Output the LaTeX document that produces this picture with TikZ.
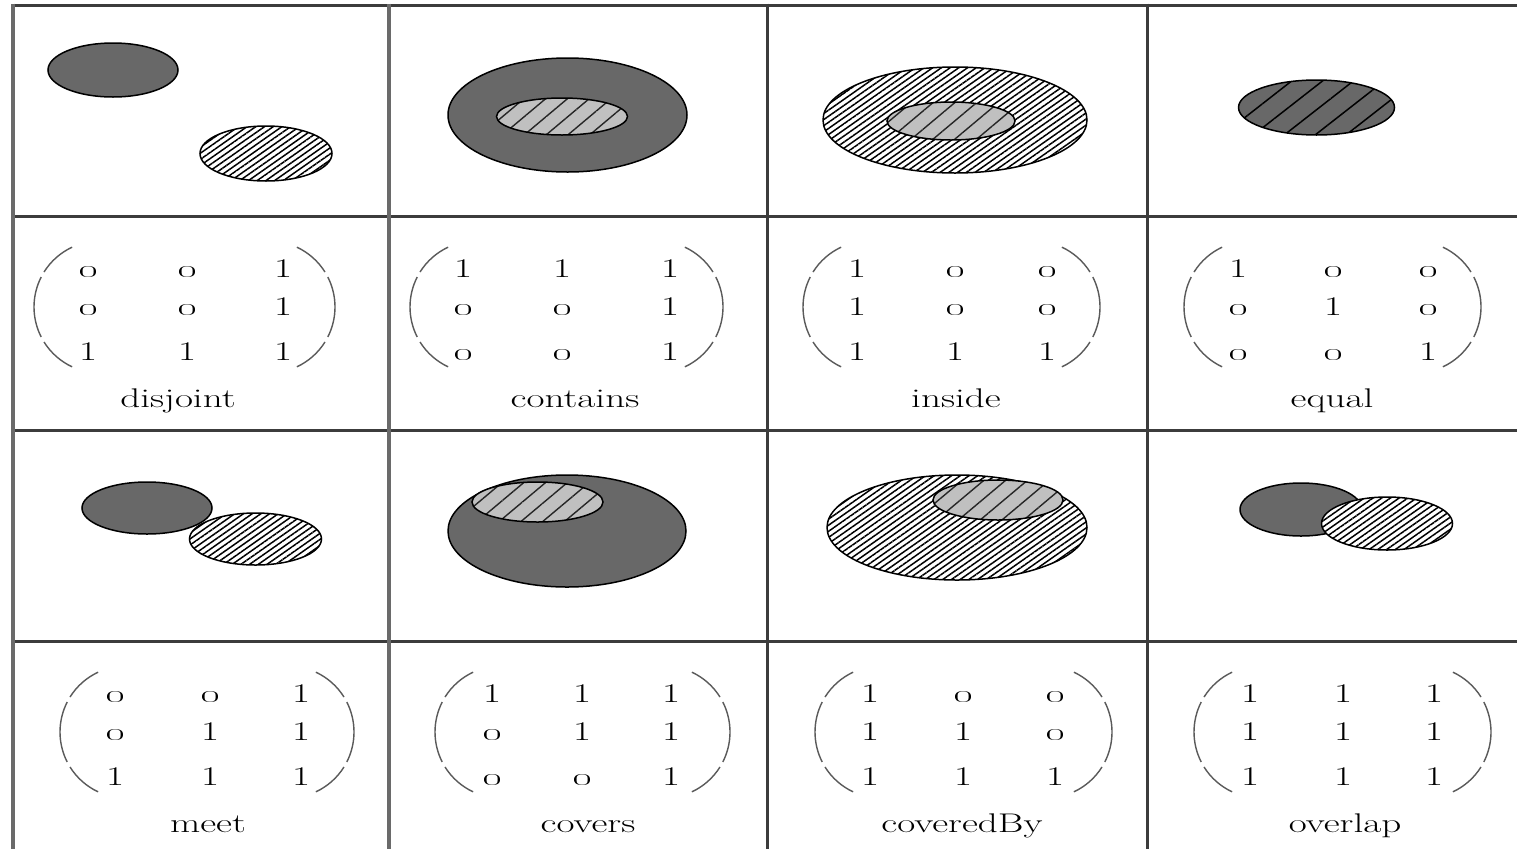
\documentclass[tikz,border=0pt]{standalone}
\usepackage{graphicx}
\usetikzlibrary{patterns.meta}
\definecolor{darkfill}{HTML}{686868}
\definecolor{lightfill}{HTML}{C0C0C0}
\definecolor{gridA}{HTML}{3C3C3C}
\definecolor{gridB}{HTML}{6A6A6A}
\definecolor{parcol}{HTML}{5A5A5A}
\newcommand{\wtext}[1]{\scalebox{1.45}[1]{#1}}
\newcommand{\zr}{\scalebox{1.2}[1]{\oldstylenums{0}}}
\newcommand{\mrow}[8]{%
  \node[entry] (#1a) at (#3,#2) {\wtext{#6}};
  \node[entry] (#1b) at (#4,#2) {\wtext{#7}};
  \node[entry] (#1c) at (#5,#2) {\wtext{#8}};
}
\newcommand{\parens}[3]{%
  \draw[paren] (#1+28,#3) ++(115:66) arc[start angle=115,end angle=148,radius=66];
  \draw[paren] (#1+28,#3) ++(153:66) arc[start angle=153,end angle=207,radius=66];
  \draw[paren] (#1+28,#3) ++(212:66) arc[start angle=212,end angle=245,radius=66];
  \draw[paren] (#2-28,#3) ++(-65:66) arc[start angle=-65,end angle=-32,radius=66];
  \draw[paren] (#2-28,#3) ++(-27:66) arc[start angle=-27,end angle=27,radius=66];
  \draw[paren] (#2-28,#3) ++(32:66) arc[start angle=32,end angle=65,radius=66];
}
\tikzset{
  shapeedge/.style={draw=black, line width=1.5pt},
  darkreg/.style={shapeedge, fill=darkfill},
  densereg/.style={shapeedge, preaction={fill=white}, pattern={Lines[angle=35,distance=5pt,line width=1.5pt]}, pattern color=black},
  lightreg/.style={shapeedge, preaction={fill=lightfill}, pattern={Lines[angle=40,distance=14pt,line width=1.4pt]}, pattern color=black!85},
  darkhatch/.style={shapeedge, preaction={fill=darkfill}, pattern={Lines[angle=38,distance=19pt,line width=1.5pt]}, pattern color=black},
  gridline/.style={line width=3pt, draw=gridA},
  gridlight/.style={line width=3.2pt, draw=gridB},
  entry/.style={anchor=base, inner sep=0pt, font=\fontsize{27}{32}\selectfont},
  paren/.style={draw=parcol, line width=1.4pt},
}
\begin{document}
\begin{tikzpicture}[x=1pt,y=-1pt]
\useasboundingbox[fill=white] (0,0) rectangle (1517,849);
% ---------- row 1 shapes ----------
\draw[darkreg] (113,70) ellipse [x radius=65, y radius=27];
\draw[densereg] (266,153.5) ellipse [x radius=66, y radius=27.5];
\draw[darkreg] (567.5,115) ellipse [x radius=119.5, y radius=57];
\draw[lightreg] (562,116.5) ellipse [x radius=65.5, y radius=18.5];
\draw[densereg] (955,120) ellipse [x radius=132, y radius=53];
\draw[lightreg] (951,121) ellipse [x radius=64, y radius=19];
\draw[darkhatch] (1316.5,107.5) ellipse [x radius=78, y radius=27.5];
% ---------- row 3 shapes ----------
\draw[darkreg] (147,508) ellipse [x radius=65, y radius=26];
\draw[densereg] (255.5,539) ellipse [x radius=66, y radius=26];
\draw[darkreg] (567,531) ellipse [x radius=119, y radius=56];
\draw[lightreg] (537.5,502) ellipse [x radius=65.5, y radius=20];
\draw[densereg] (957,527.5) ellipse [x radius=130, y radius=52.5];
\draw[lightreg] (998,500) ellipse [x radius=65, y radius=20];
\draw[darkreg] (1301,509.5) ellipse [x radius=61, y radius=26.5];
\draw[densereg] (1387,523.5) ellipse [x radius=65.5, y radius=26.5];
% ---------- row 2 matrices ----------
% disjoint
\mrow{dj1}{277}{88}{187}{283}{\zr}{\zr}{1}
\mrow{dj2}{315}{88}{187}{283}{\zr}{\zr}{1}
\mrow{dj3}{360}{88}{187}{283}{1}{1}{1}
\parens{72}{297}{307}
\node[entry] (djl) at (178,407) {\wtext{disjoint}};
% contains
\mrow{ct1}{277}{463}{562}{670}{1}{1}{1}
\mrow{ct2}{315}{463}{562}{670}{\zr}{\zr}{1}
\mrow{ct3}{360}{463}{562}{670}{\zr}{\zr}{1}
\parens{448}{685}{307}
\node[entry] (ctl) at (575,407) {\wtext{contains}};
% inside
\mrow{in1}{277}{857}{955}{1047}{1}{\zr}{\zr}
\mrow{in2}{315}{857}{955}{1047}{1}{\zr}{\zr}
\mrow{in3}{360}{857}{955}{1047}{1}{1}{1}
\parens{841}{1062}{307}
\node[entry] (inl) at (956,407) {\wtext{inside}};
% equal
\mrow{eq1}{277}{1238}{1333}{1428}{1}{\zr}{\zr}
\mrow{eq2}{315}{1238}{1333}{1428}{\zr}{1}{\zr}
\mrow{eq3}{360}{1238}{1333}{1428}{\zr}{\zr}{1}
\parens{1222}{1443}{307}
\node[entry] (eql) at (1332,407) {\wtext{equal}};
% ---------- row 4 matrices ----------
% meet
\mrow{me1}{702}{115}{210}{301}{\zr}{\zr}{1}
\mrow{me2}{740}{115}{210}{301}{\zr}{1}{1}
\mrow{me3}{785}{115}{210}{301}{1}{1}{1}
\parens{98}{316}{732}
\node[entry] (mel) at (208,832) {\wtext{meet}};
% covers
\mrow{cv1}{702}{492}{582}{671}{1}{1}{1}
\mrow{cv2}{740}{492}{582}{671}{\zr}{1}{1}
\mrow{cv3}{785}{492}{582}{671}{\zr}{\zr}{1}
\parens{473}{692}{732}
\node[entry] (cvl) at (588,832) {\wtext{covers}};
% coveredBy
\mrow{cb1}{702}{870}{963}{1055}{1}{\zr}{\zr}
\mrow{cb2}{740}{870}{963}{1055}{1}{1}{\zr}
\mrow{cb3}{785}{870}{963}{1055}{1}{1}{1}
\parens{853}{1074}{732}
\node[entry] (cbl) at (962,832) {\wtext{coveredBy}};
% overlap
\mrow{ov1}{702}{1250}{1343}{1434}{1}{1}{1}
\mrow{ov2}{740}{1250}{1343}{1434}{1}{1}{1}
\mrow{ov3}{785}{1250}{1343}{1434}{1}{1}{1}
\parens{1232}{1453}{732}
\node[entry] (ovl) at (1345,832) {\wtext{overlap}};
% ---------- grid ----------
\draw[gridline] (13,5) -- (1517,5);
\draw[gridline] (13,216) -- (1517,216);
\draw[gridline] (13,430) -- (1517,430);
\draw[gridline] (13,641) -- (1517,641);
\draw[gridlight] (13,3.5) -- (13,849);
\draw[gridlight] (389,3.5) -- (389,849);
\draw[gridline] (767,3.5) -- (767,849);
\draw[gridline] (1147,3.5) -- (1147,849);
\end{tikzpicture}
\end{document}
